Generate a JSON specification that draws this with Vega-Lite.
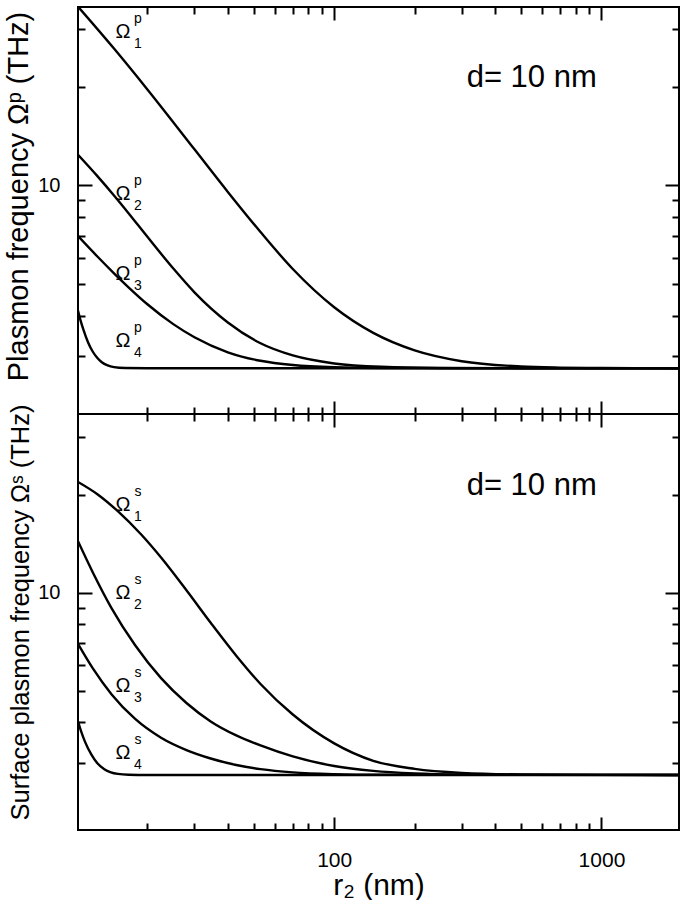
{
  "$schema": "https://vega.github.io/schema/vega-lite/v6.json",
  "padding": {"left": 3, "top": 5, "right": 7, "bottom": 0},
  "spacing": 0,
  "bounds": "flush",
  "config": {
    "font": "Liberation Sans",
    "view": {"stroke": "black", "strokeWidth": 2},
    "axis": {"domain": false, "grid": false, "tickColor": "black", "tickWidth": 2, "labelColor": "black", "titleColor": "black", "labelFont": "Liberation Sans", "titleFont": "Liberation Sans", "titleFontWeight": "normal", "labelFontSize": 20, "titleFontSize": 28}
  },
  "datasets": {
    "curves": [
      {"panel": "p", "n": 1, "r": 11, "w": 35.2}, {"panel": "p", "n": 1, "r": 15, "w": 26.2}, {"panel": "p", "n": 1, "r": 20, "w": 19.65}, {"panel": "p", "n": 1, "r": 30, "w": 12.89}, {"panel": "p", "n": 1, "r": 40, "w": 9.55}, {"panel": "p", "n": 1, "r": 53, "w": 7.2}, {"panel": "p", "n": 1, "r": 70, "w": 5.55}, {"panel": "p", "n": 1, "r": 100, "w": 4.24}, {"panel": "p", "n": 1, "r": 140, "w": 3.54}, {"panel": "p", "n": 1, "r": 200, "w": 3.13}, {"panel": "p", "n": 1, "r": 300, "w": 2.9}, {"panel": "p", "n": 1, "r": 500, "w": 2.795}, {"panel": "p", "n": 1, "r": 700, "w": 2.773}, {"panel": "p", "n": 1, "r": 1000, "w": 2.764}, {"panel": "p", "n": 1, "r": 1950, "w": 2.76},
      {"panel": "p", "n": 2, "r": 11, "w": 12.4}, {"panel": "p", "n": 2, "r": 13, "w": 10.67}, {"panel": "p", "n": 2, "r": 15, "w": 9.31}, {"panel": "p", "n": 2, "r": 17, "w": 8.22}, {"panel": "p", "n": 2, "r": 20, "w": 6.96}, {"panel": "p", "n": 2, "r": 25, "w": 5.57}, {"panel": "p", "n": 2, "r": 30, "w": 4.71}, {"panel": "p", "n": 2, "r": 40, "w": 3.81}, {"panel": "p", "n": 2, "r": 53, "w": 3.29}, {"panel": "p", "n": 2, "r": 70, "w": 3.02}, {"panel": "p", "n": 2, "r": 100, "w": 2.855}, {"panel": "p", "n": 2, "r": 150, "w": 2.788}, {"panel": "p", "n": 2, "r": 250, "w": 2.766}, {"panel": "p", "n": 2, "r": 500, "w": 2.761}, {"panel": "p", "n": 2, "r": 1950, "w": 2.76},
      {"panel": "p", "n": 3, "r": 11, "w": 7.0}, {"panel": "p", "n": 3, "r": 13, "w": 6.06}, {"panel": "p", "n": 3, "r": 15, "w": 5.385}, {"panel": "p", "n": 3, "r": 17, "w": 4.88}, {"panel": "p", "n": 3, "r": 20, "w": 4.33}, {"panel": "p", "n": 3, "r": 25, "w": 3.765}, {"panel": "p", "n": 3, "r": 30, "w": 3.433}, {"panel": "p", "n": 3, "r": 40, "w": 3.088}, {"panel": "p", "n": 3, "r": 53, "w": 2.909}, {"panel": "p", "n": 3, "r": 70, "w": 2.823}, {"panel": "p", "n": 3, "r": 100, "w": 2.779}, {"panel": "p", "n": 3, "r": 150, "w": 2.765}, {"panel": "p", "n": 3, "r": 300, "w": 2.761}, {"panel": "p", "n": 3, "r": 1950, "w": 2.76},
      {"panel": "p", "n": 4, "r": 11, "w": 4.14}, {"panel": "p", "n": 4, "r": 11.25, "w": 3.86}, {"panel": "p", "n": 4, "r": 11.5, "w": 3.64}, {"panel": "p", "n": 4, "r": 12, "w": 3.31}, {"panel": "p", "n": 4, "r": 12.5, "w": 3.1}, {"panel": "p", "n": 4, "r": 13, "w": 2.966}, {"panel": "p", "n": 4, "r": 13.5, "w": 2.88}, {"panel": "p", "n": 4, "r": 14.2, "w": 2.816}, {"panel": "p", "n": 4, "r": 15, "w": 2.782}, {"panel": "p", "n": 4, "r": 16.5, "w": 2.764}, {"panel": "p", "n": 4, "r": 20, "w": 2.76}, {"panel": "p", "n": 4, "r": 1950, "w": 2.76},
      {"panel": "s", "n": 1, "r": 11, "w": 21.9}, {"panel": "s", "n": 1, "r": 13, "w": 20.08}, {"panel": "s", "n": 1, "r": 15.5, "w": 17.81}, {"panel": "s", "n": 1, "r": 19, "w": 15.07}, {"panel": "s", "n": 1, "r": 22.5, "w": 12.83}, {"panel": "s", "n": 1, "r": 28, "w": 10.18}, {"panel": "s", "n": 1, "r": 34.5, "w": 8.09}, {"panel": "s", "n": 1, "r": 43, "w": 6.41}, {"panel": "s", "n": 1, "r": 53, "w": 5.25}, {"panel": "s", "n": 1, "r": 70, "w": 4.23}, {"panel": "s", "n": 1, "r": 100, "w": 3.45}, {"panel": "s", "n": 1, "r": 140, "w": 3.05}, {"panel": "s", "n": 1, "r": 200, "w": 2.88}, {"panel": "s", "n": 1, "r": 300, "w": 2.8}, {"panel": "s", "n": 1, "r": 500, "w": 2.769}, {"panel": "s", "n": 1, "r": 1000, "w": 2.761}, {"panel": "s", "n": 1, "r": 1950, "w": 2.76},
      {"panel": "s", "n": 2, "r": 11, "w": 14.4}, {"panel": "s", "n": 2, "r": 12.5, "w": 11.55}, {"panel": "s", "n": 2, "r": 14.7, "w": 8.96}, {"panel": "s", "n": 2, "r": 18, "w": 6.9}, {"panel": "s", "n": 2, "r": 22.5, "w": 5.47}, {"panel": "s", "n": 2, "r": 28, "w": 4.59}, {"panel": "s", "n": 2, "r": 34.5, "w": 4.03}, {"panel": "s", "n": 2, "r": 43, "w": 3.65}, {"panel": "s", "n": 2, "r": 53, "w": 3.4}, {"panel": "s", "n": 2, "r": 70, "w": 3.146}, {"panel": "s", "n": 2, "r": 100, "w": 2.94}, {"panel": "s", "n": 2, "r": 140, "w": 2.841}, {"panel": "s", "n": 2, "r": 200, "w": 2.791}, {"panel": "s", "n": 2, "r": 300, "w": 2.769}, {"panel": "s", "n": 2, "r": 500, "w": 2.762}, {"panel": "s", "n": 2, "r": 1950, "w": 2.76},
      {"panel": "s", "n": 3, "r": 11, "w": 6.97}, {"panel": "s", "n": 3, "r": 12.5, "w": 5.86}, {"panel": "s", "n": 3, "r": 14.7, "w": 4.877}, {"panel": "s", "n": 3, "r": 18, "w": 4.1}, {"panel": "s", "n": 3, "r": 22.5, "w": 3.59}, {"panel": "s", "n": 3, "r": 28, "w": 3.29}, {"panel": "s", "n": 3, "r": 34.5, "w": 3.1}, {"panel": "s", "n": 3, "r": 43, "w": 2.96}, {"panel": "s", "n": 3, "r": 53, "w": 2.875}, {"panel": "s", "n": 3, "r": 70, "w": 2.81}, {"panel": "s", "n": 3, "r": 100, "w": 2.776}, {"panel": "s", "n": 3, "r": 150, "w": 2.764}, {"panel": "s", "n": 3, "r": 300, "w": 2.761}, {"panel": "s", "n": 3, "r": 1950, "w": 2.76},
      {"panel": "s", "n": 4, "r": 11, "w": 4.03}, {"panel": "s", "n": 4, "r": 11.3, "w": 3.757}, {"panel": "s", "n": 4, "r": 11.7, "w": 3.481}, {"panel": "s", "n": 4, "r": 12.35, "w": 3.185}, {"panel": "s", "n": 4, "r": 13, "w": 2.996}, {"panel": "s", "n": 4, "r": 13.8, "w": 2.872}, {"panel": "s", "n": 4, "r": 14.6, "w": 2.811}, {"panel": "s", "n": 4, "r": 15.5, "w": 2.78}, {"panel": "s", "n": 4, "r": 17, "w": 2.764}, {"panel": "s", "n": 4, "r": 20, "w": 2.76}, {"panel": "s", "n": 4, "r": 1950, "w": 2.76}
    ],
    "labels": [
      {"panel": "p", "n": 1, "sup": "p", "r": 16.2, "w": 29.4},
      {"panel": "p", "n": 2, "sup": "p", "r": 16.2, "w": 9.39},
      {"panel": "p", "n": 3, "sup": "p", "r": 16.2, "w": 5.35},
      {"panel": "p", "n": 4, "sup": "p", "r": 16.2, "w": 3.35},
      {"panel": "s", "n": 1, "sup": "s", "r": 16.2, "w": 18.6},
      {"panel": "s", "n": 2, "sup": "s", "r": 16.2, "w": 9.99},
      {"panel": "s", "n": 3, "sup": "s", "r": 16.2, "w": 5.17},
      {"panel": "s", "n": 4, "sup": "s", "r": 16.2, "w": 3.23}
    ],
    "notes": [
      {"panel": "p", "r": 313, "w": 20, "t": "d= 10 nm"},
      {"panel": "s", "r": 313, "w": 20, "t": "d= 10 nm"}
    ]
  },
  "vconcat": [
    {
      "width": 601,
      "height": 407,
      "resolve": {"axis": {"x": "independent", "y": "independent"}},
      "layer": [
        {
          "data": {"name": "curves"},
          "transform": [{"filter": "datum.panel == 'p'"}],
          "mark": {"type": "line", "color": "black", "strokeWidth": 2.4, "interpolate": "monotone", "clip": true},
          "encoding": {
            "x": {"field": "r", "type": "quantitative", "scale": {"type": "log", "domain": [11, 1950], "nice": false},
              "axis": {"orient": "bottom", "values": [20,30,40,50,60,70,80,90,100,200,300,400,500,600,700,800,900,1000], "labels": false, "title": null,
                "tickSize": {"condition": {"test": "datum.value == 100 || datum.value == 1000", "value": -13}, "value": -7}}},
            "y": {"field": "w", "type": "quantitative", "scale": {"type": "log", "domain": [2.0, 35.1], "nice": false},
              "axis": {"orient": "left", "values": [3,4,5,6,7,8,9,10,20,30], "labelExpr": "datum.value == 10 ? '10' : ''", "labelPadding": 32, "labelOverlap": false,
                "title": "Plasmon frequency Ωᵖ (THz)", "titlePadding": 4, "titleFontSize": 29, "titleY": 189,
                "tickSize": {"condition": {"test": "datum.value == 10", "value": -14}, "value": -7}}},
            "detail": {"field": "n"}
          }
        },
        {
          "data": {"name": "curves"},
          "transform": [{"filter": "datum.panel == 'p'"}],
          "mark": {"type": "line", "opacity": 0, "clip": true},
          "encoding": {
            "x": {"field": "r", "type": "quantitative",
              "axis": {"orient": "top", "values": [20,30,40,50,60,70,80,90,100,200,300,400,500,600,700,800,900,1000], "labels": false, "title": null,
                "tickSize": {"condition": {"test": "datum.value == 100 || datum.value == 1000", "value": -13}, "value": -7}}},
            "y": {"field": "w", "type": "quantitative",
              "axis": {"orient": "right", "values": [3,4,5,6,7,8,9,10,20,30], "labels": false, "title": null,
                "tickSize": {"condition": {"test": "datum.value == 10", "value": -14}, "value": -7}}},
            "detail": {"field": "n"}
          }
        },
        {
          "data": {"name": "labels"},
          "transform": [{"filter": "datum.panel == 'p'"}],
          "mark": {"type": "text", "fontSize": 20, "align": "center", "baseline": "middle", "color": "black"},
          "encoding": {"x": {"field": "r", "type": "quantitative", "axis": null}, "y": {"field": "w", "type": "quantitative", "axis": null}, "text": {"value": "Ω"}}
        },
        {
          "data": {"name": "labels"},
          "transform": [{"filter": "datum.panel == 'p'"}],
          "mark": {"type": "text", "fontSize": 14, "align": "center", "baseline": "middle", "dx": 15, "dy": -13, "color": "black"},
          "encoding": {"x": {"field": "r", "type": "quantitative", "axis": null}, "y": {"field": "w", "type": "quantitative", "axis": null}, "text": {"field": "sup"}}
        },
        {
          "data": {"name": "labels"},
          "transform": [{"filter": "datum.panel == 'p'"}],
          "mark": {"type": "text", "fontSize": 14, "align": "center", "baseline": "middle", "dx": 15, "dy": 12, "color": "black"},
          "encoding": {"x": {"field": "r", "type": "quantitative", "axis": null}, "y": {"field": "w", "type": "quantitative", "axis": null}, "text": {"field": "n"}}
        },
        {
          "data": {"name": "notes"},
          "transform": [{"filter": "datum.panel == 'p'"}],
          "mark": {"type": "text", "fontSize": 31, "align": "left", "baseline": "alphabetic", "color": "black"},
          "encoding": {"x": {"field": "r", "type": "quantitative", "axis": null}, "y": {"field": "w", "type": "quantitative", "axis": null}, "text": {"field": "t"}}
        }
      ]
    },
    {
      "width": 601,
      "height": 416,
      "resolve": {"axis": {"x": "independent", "y": "independent"}},
      "layer": [
        {
          "data": {"name": "curves"},
          "transform": [{"filter": "datum.panel == 's'"}],
          "mark": {"type": "line", "color": "black", "strokeWidth": 2.4, "interpolate": "monotone", "clip": true},
          "encoding": {
            "x": {"field": "r", "type": "quantitative", "scale": {"type": "log", "domain": [11, 1950], "nice": false},
              "axis": {"orient": "bottom", "values": [20,30,40,50,60,70,80,90,100,200,300,400,500,600,700,800,900,1000],
                "labelExpr": "datum.value == 100 ? '100' : datum.value == 1000 ? '1000' : ''", "labelPadding": 32, "labelFontSize": 21, "labelOverlap": false, "labelFlush": false,
                "title": "r₂ (nm)", "titleFontSize": 30, "titlePadding": -6,
                "tickSize": {"condition": {"test": "datum.value == 100 || datum.value == 1000", "value": -13}, "value": -7}}},
            "y": {"field": "w", "type": "quantitative", "scale": {"type": "log", "domain": [1.87, 35.4], "nice": false},
              "axis": {"orient": "left", "values": [3,4,5,6,7,8,9,10,20,30], "labelExpr": "datum.value == 10 ? '10' : ''", "labelPadding": 32, "labelOverlap": false,
                "title": "Surface plasmon frequency Ωˢ (THz)", "titlePadding": 4, "titleFontSize": 25.5, "titleY": 198,
                "tickSize": {"condition": {"test": "datum.value == 10", "value": -14}, "value": -7}}},
            "detail": {"field": "n"}
          }
        },
        {
          "data": {"name": "curves"},
          "transform": [{"filter": "datum.panel == 's'"}],
          "mark": {"type": "line", "opacity": 0, "clip": true},
          "encoding": {
            "x": {"field": "r", "type": "quantitative",
              "axis": {"orient": "top", "values": [20,30,40,50,60,70,80,90,100,200,300,400,500,600,700,800,900,1000], "labels": false, "title": null,
                "tickSize": {"condition": {"test": "datum.value == 100 || datum.value == 1000", "value": -13}, "value": -7}}},
            "y": {"field": "w", "type": "quantitative",
              "axis": {"orient": "right", "values": [3,4,5,6,7,8,9,10,20,30], "labels": false, "title": null,
                "tickSize": {"condition": {"test": "datum.value == 10", "value": -14}, "value": -7}}},
            "detail": {"field": "n"}
          }
        },
        {
          "data": {"name": "labels"},
          "transform": [{"filter": "datum.panel == 's'"}],
          "mark": {"type": "text", "fontSize": 20, "align": "center", "baseline": "middle", "color": "black"},
          "encoding": {"x": {"field": "r", "type": "quantitative", "axis": null}, "y": {"field": "w", "type": "quantitative", "axis": null}, "text": {"value": "Ω"}}
        },
        {
          "data": {"name": "labels"},
          "transform": [{"filter": "datum.panel == 's'"}],
          "mark": {"type": "text", "fontSize": 14, "align": "center", "baseline": "middle", "dx": 15, "dy": -13, "color": "black"},
          "encoding": {"x": {"field": "r", "type": "quantitative", "axis": null}, "y": {"field": "w", "type": "quantitative", "axis": null}, "text": {"field": "sup"}}
        },
        {
          "data": {"name": "labels"},
          "transform": [{"filter": "datum.panel == 's'"}],
          "mark": {"type": "text", "fontSize": 14, "align": "center", "baseline": "middle", "dx": 15, "dy": 12, "color": "black"},
          "encoding": {"x": {"field": "r", "type": "quantitative", "axis": null}, "y": {"field": "w", "type": "quantitative", "axis": null}, "text": {"field": "n"}}
        },
        {
          "data": {"name": "notes"},
          "transform": [{"filter": "datum.panel == 's'"}],
          "mark": {"type": "text", "fontSize": 31, "align": "left", "baseline": "alphabetic", "color": "black"},
          "encoding": {"x": {"field": "r", "type": "quantitative", "axis": null}, "y": {"field": "w", "type": "quantitative", "axis": null}, "text": {"field": "t"}}
        }
      ]
    }
  ]
}
